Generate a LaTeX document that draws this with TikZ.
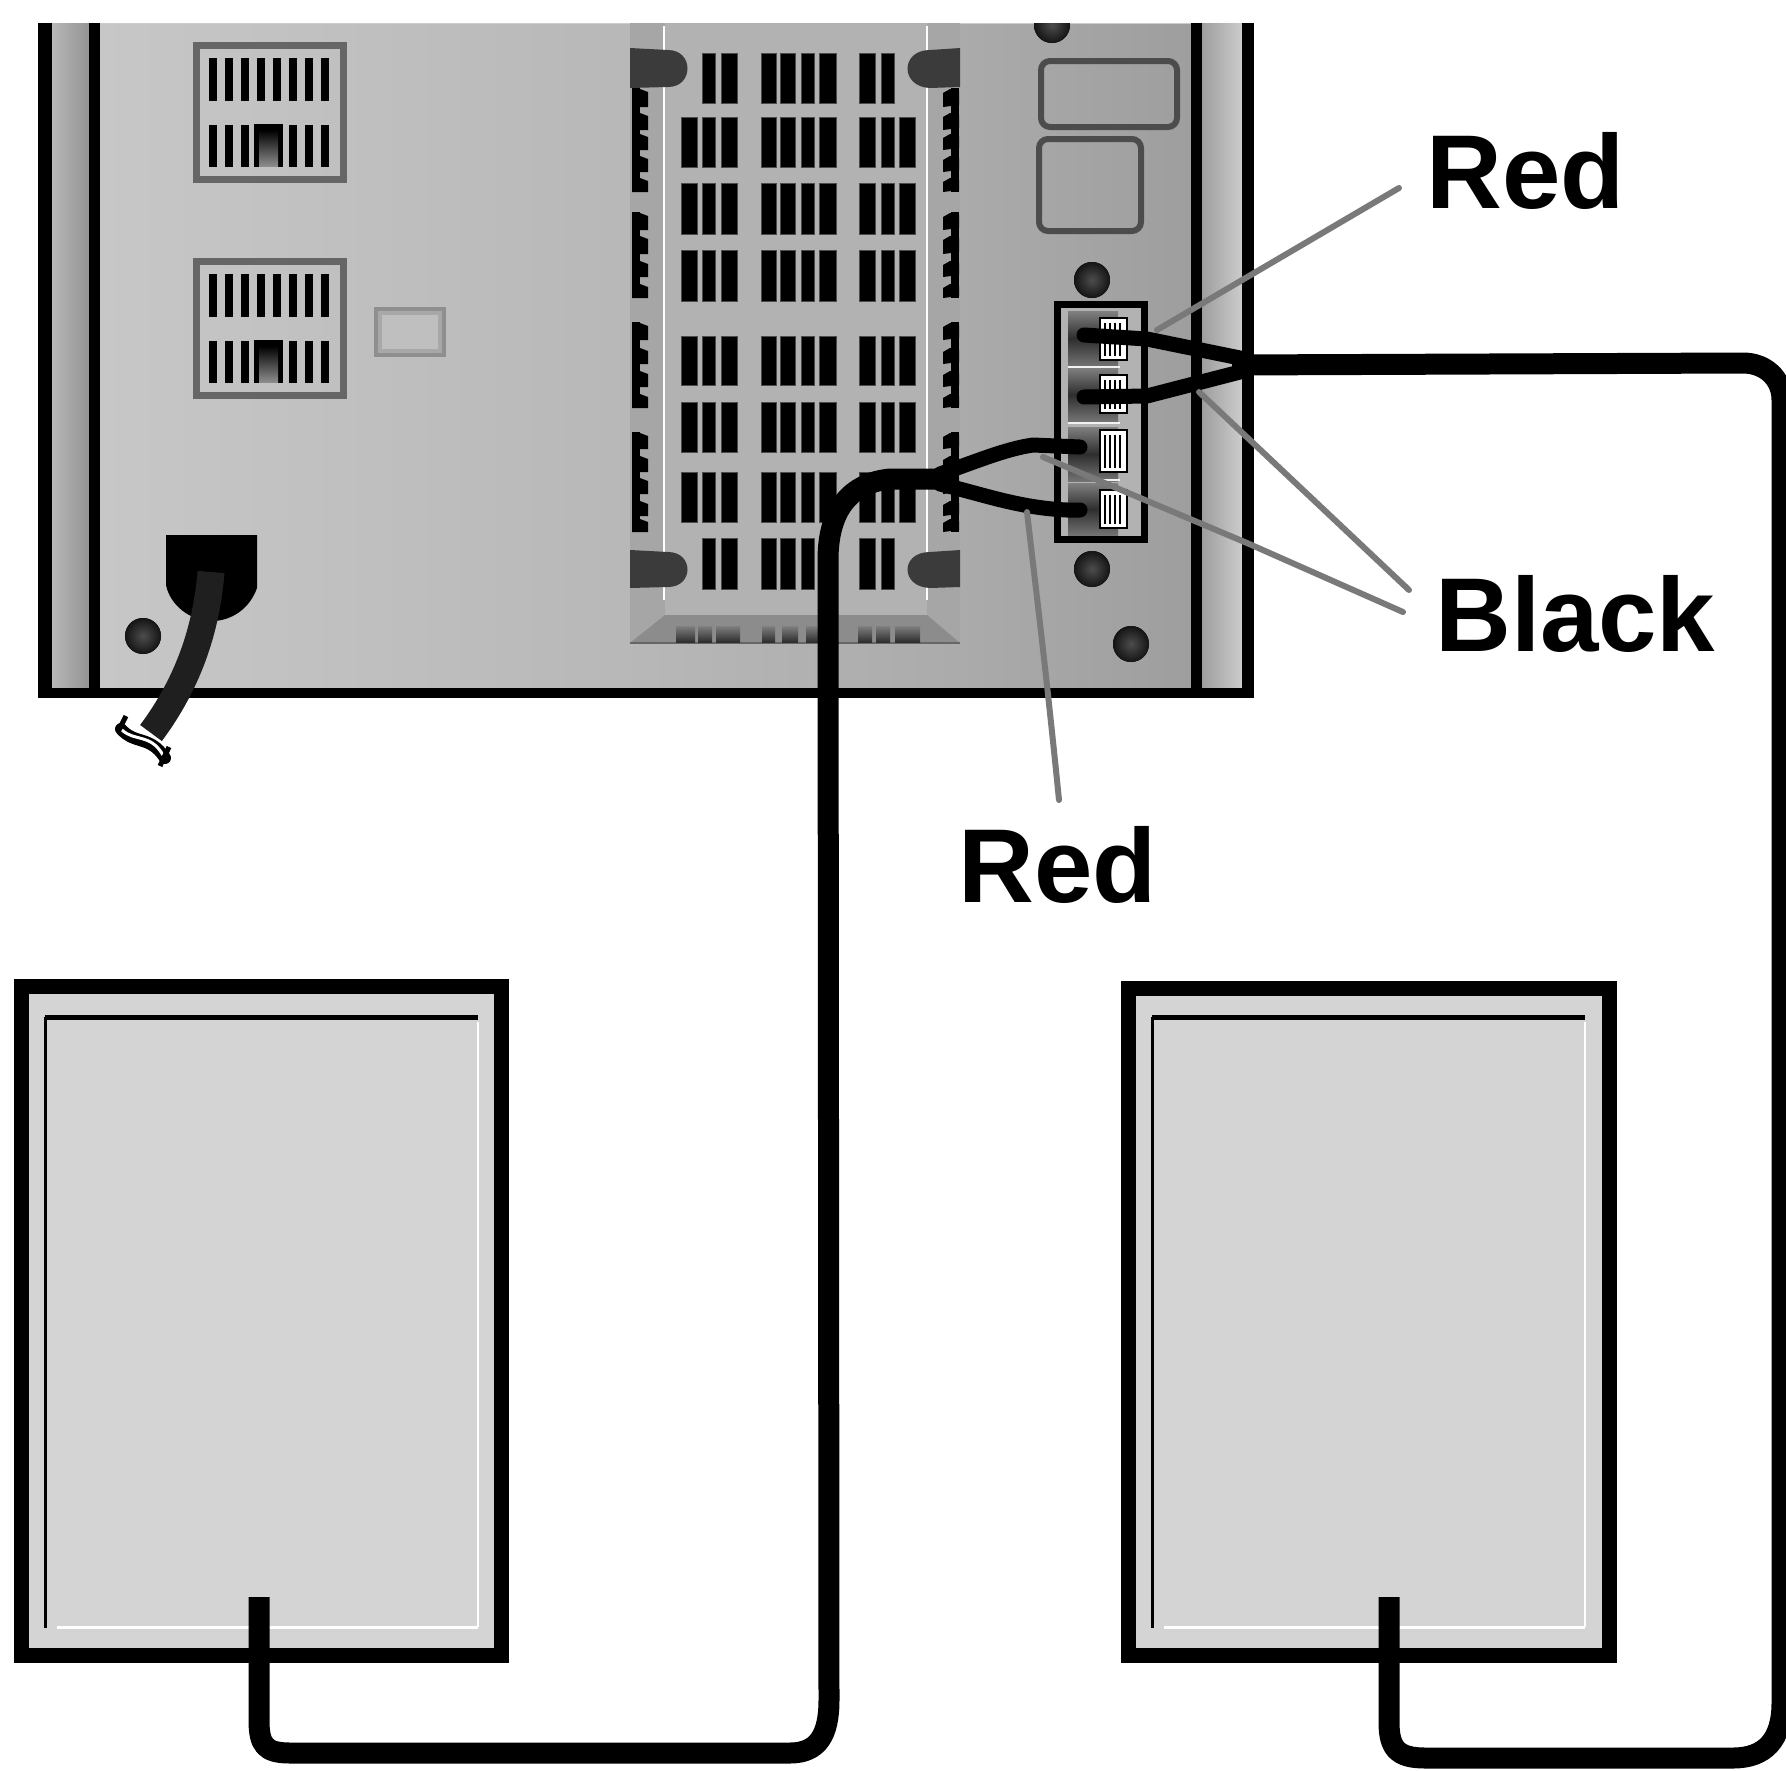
\documentclass[tikz,border=0pt]{standalone}
\usepackage{fontspec}
\setmainfont{Liberation Sans}
\tikzset{
  wire/.style={line width=21pt,black,line cap=butt,line join=round},
  thinwire/.style={line width=15pt,black,line cap=round,line join=round},
  leader/.style={line width=6pt,color=gray!95!black,line cap=round},
  slot/.style={fill=black,draw=black!70,line width=0.6pt},
  screw/.style={inner color=black!70,outer color=black!92},
  ventframe/.style={draw=black!60,line width=7pt},
  roundbox/.style={draw=black!70,line width=6pt,rounded corners=9pt},
  speakerbox/.style={draw=black,line width=15pt,fill=black!17},
  lab/.style={inner sep=0pt,anchor=base west,font=\fontsize{105}{105}\bfseries\selectfont},
  screwhead/.style={fill=black!77},
  bodystroke/.style={black,line cap=butt}
}
\begin{document}
\begin{tikzpicture}[x=1pt,y=-1pt]
\useasboundingbox (0,0) rectangle (1786,1770);
\fill[white] (0,0) rectangle (1786,1770);

%% ---------- main unit body ----------
\shade[left color=black!22,right color=black!28] (100,23) rectangle (630,690);
\shade[left color=black!33,right color=black!38] (960,23) rectangle (1191,690);
\shade[left color=black!28,right color=black!33] (630,590) rectangle (960,690);
\shade[left color=black!28,right color=black!42] (52,23) rectangle (89,690);
\shade[left color=black!38,right color=black!20] (1202,23) rectangle (1242,690);
\draw[bodystroke,line width=14pt] (45,23) -- (45,693);
\draw[bodystroke,line width=11pt] (94.5,23) -- (94.5,693);
\draw[bodystroke,line width=11pt] (1196.5,23) -- (1196.5,693);
\draw[bodystroke,line width=12pt] (1248,23) -- (1248,693);
\draw[bodystroke,line width=10pt] (38,692.5) -- (1254,692.5);
\draw[black!20,line width=1pt] (100,23) -- (1191,23);

%% ---------- grille ----------
\fill[black!35] (630,23) rectangle (960,643);
\fill[black!30] (665,23) rectangle (927,615);
\fill[black!45] (630,643) -- (665,615) -- (927,615) -- (960,643) -- cycle;
\draw[black!60,line width=2pt] (630,643) -- (960,643);
\draw[white,line width=2.5pt] (664,26) -- (664,600);
\draw[white,line width=2pt] (927,26) -- (927,600);
\foreach \xa/\xb in {761/776.7,780/795.7,801/814.3,819.7/836,859.7/875.7,881/894.3,702.3/715.7,721/737.3}{
  \foreach \ya/\yb in {53/103,117/167,183/234,250/301,336/385,402/452,472/522,538/589}{
    \fill[slot] (\xa,\ya) rectangle (\xb,\yb);
  }
}
\foreach \xa/\xb in {681/697,899.7/915.7}{
  \foreach \ya/\yb in {117/167,183/234,250/301,336/385,402/452,472/522}{
    \fill[slot] (\xa,\ya) rectangle (\xb,\yb);
  }
}
% serrated edges: a spine per group, and the teeth on it
\foreach \ya/\yb in {88/192,212/298,322/408,432/532}{
  \fill[black] (632,\ya) rectangle (640,\yb);
  \fill[black] (951,\ya) rectangle (959,\yb);
}
\foreach \ya/\yb in {88/107,112/130,133/150,155/172,177/192,212/230,235/254,260/277,283/298,322/340,347/364,370/387,393/408,432/449,455/472,477/494,500/516,518/532}{
  \fill[black] (632,\ya) -- (640,\ya+1) -- (648,\ya+4) -- (648,\yb) -- (632,\yb) -- cycle;
  \fill[black] (959,\ya+3) -- (950,\ya+1) -- (943,\ya+5) -- (943,\yb) -- (959,\yb-2) -- cycle;
}
% screws of the grille
\foreach \ya/\yb in {48/88,550/588}{
  \fill[screwhead] (630,\ya) -- (668,\ya+2) .. controls (694,\ya+2) and (694,\yb-1) .. (668,\yb-1) -- (630,\yb) -- cycle;
  \fill[screwhead] (960,\ya) -- (930,\ya+2) .. controls (900,\ya+2) and (900,\yb-1) .. (930,\yb) -- (960,\yb-1) -- cycle;
}
% blurred print on the bevel
\foreach \xa/\xb in {676/695,698/712,716/740,762/775,782/798,806/822,858/872,876/890,895/920}{
  \shade[top color=black!50,bottom color=black!82] (\xa,626) rectangle (\xb,642);
}

%% ---------- left vents ----------
\foreach \yt/\ya/\yb/\yc/\yd/\ye in {42/58/101/125/167/183,258/274/317/341/383/399}{
  \draw[ventframe] (196.5,\yt+3.5) rectangle (343.5,\ye-3.5);
  \foreach \i in {0,...,7}{
    \fill[black] (209+16*\i,\ya) rectangle (217+16*\i,\yb);
  }
  \foreach \i in {0,1,2,5,6,7}{
    \fill[black] (209+16*\i,\yc) rectangle (217+16*\i,\yd);
  }
  \fill[black] (254,\yc-1) rectangle (283,\yd);
  \shade[top color=black,bottom color=black!45] (259,\yc+5) rectangle (278,\yd-1);
}
\fill[black!44] (374,307) rectangle (446,357);
\fill[black!34] (378,311) rectangle (442,353);
\fill[black!25] (382,315) rectangle (438,349);

%% ---------- power plug ----------
\fill[black] (166,535) -- (257,535) -- (257,588) .. controls (250,608) and (232,621) .. (212,621)
  .. controls (190,621) and (170,605) .. (166,585) -- cycle;
\draw[line width=27pt,black!88,line cap=butt] (211,572) .. controls (207,622) and (192,678) .. (151,733);
\draw[black,line width=12pt,line cap=round] (121,729) .. controls (135,745) and (150,735) .. (165,758);
\draw[white,line width=3pt,line cap=round] (122,730) .. controls (135,742) and (150,733) .. (163,755);
\draw[black,line width=5pt] (126,716) -- (119,730);
\draw[black,line width=5pt] (169,747) -- (160,766);
\fill[screw] (143,636) circle (18);

%% ---------- right side details ----------
\draw[roundbox] (1041,61) rectangle (1177,127);
\draw[roundbox] (1039,139) rectangle (1141,231);
\begin{scope}
\clip (1000,23) rectangle (1100,60);
\fill[screw] (1052,25) circle (18);
\end{scope}
\fill[screw] (1092,280) circle (18);
\fill[screw] (1092,569) circle (18);
\fill[screw] (1131,644) circle (18);

%% ---------- terminal block ----------
\fill[black!30] (1054,301) rectangle (1148,543);
\foreach \ya/\yb in {311/366,368/421,427/481,483/535}{
  \shade[top color=black!50,bottom color=black!55,middle color=black!82] (1068,\ya) rectangle (1118,\yb);
}
\draw[black!5,line width=2pt] (1068,367) -- (1120,367);
\draw[black!5,line width=2pt] (1068,423) -- (1120,423);
\draw[black!5,line width=2pt] (1095,480) -- (1120,480);
\foreach \ya/\yb in {318/360,375/413,430/472,490/528}{
  \fill[white] (1100,\ya) rectangle (1127,\yb);
  \draw[black,line width=1.5pt] (1100,\ya) rectangle (1127,\yb);
  \foreach \x in {1105,1110,1115,1120}{
    \draw[black,line width=2pt] (\x,\ya+5) -- (\x,\yb-4);
  }
}
\draw[black,line width=7pt] (1057.5,304.5) rectangle (1144.5,539.5);

%% ---------- speakers ----------
\foreach \xl/\xr/\yt/\il/\ir in {21.5/501.5/986.5/45/478,1128.5/1609.5/988.5/1152/1585}{
  \draw[speakerbox] (\xl,\yt) rectangle (\xr,1655.5);
  \draw[black,line width=5pt] (\il,1017) -- (\ir,1017);
  \draw[black,line width=3pt] (\il,1017) -- (\il,1628);
  \draw[white,line width=3pt] (\il+12,1627) -- (\ir,1627);
  \draw[white,line width=2pt] (\ir,1022) -- (\ir,1627);
}

%% ---------- named junctions and free ends ----------
\coordinate (leftjoint) at (942,479);
\coordinate (rightjoint) at (1232,365);
\coordinate (termA) at (1084,335);
\coordinate (termB) at (1084,397);
\coordinate (termC) at (1080,447);
\coordinate (termD) at (1080,510);
\coordinate (spkL) at (259,1597);
\coordinate (spkR) at (1389,1597);

%% ---------- wires ----------
\draw[wire] (spkL) -- (259,1720) .. controls (259,1745) and (265,1753) .. (290,1753)
  -- (790,1753) .. controls (818,1753) and (829,1735) .. (829,1700)
  -- (828,560) .. controls (828,510) and (850,483) .. (890,479) -- (leftjoint);
\draw[wire] (spkR) -- (1389,1722) .. controls (1389,1748) and (1397,1758) .. (1425,1758)
  -- (1733,1758) .. controls (1765,1758) and (1782,1740) .. (1782,1703)
  -- (1782,400) .. controls (1782,378) and (1765,363) .. (1743,363) -- (rightjoint);
\draw[thinwire] (termA) -- (1147,339) -- (1240,358);
\draw[thinwire] (termB) -- (1147,396) -- (1240,372);
\draw[thinwire] (termC) -- (1033,445) .. controls (1005,449) and (975,462) .. (940,474);
\draw[thinwire] (termD) -- (1067,510) .. controls (1020,508) and (985,495) .. (940,484);

%% ---------- labels and leaders ----------
\node[lab] (redtop) at (1426,208) {Red};
\node[lab] (black) at (1435,651) {Black};
\node[lab] (redlow) at (958,902) {Red};
\coordinate (redtopend) at (1399,188);
\coordinate (blackendA) at (1409,590);
\coordinate (blackendB) at (1403,612);
\coordinate (redlowend) at (1059,800);
\coordinate (redtopstart) at (1157,330);
\coordinate (blackstartA) at (1199,392);
\coordinate (blackstartB) at (1043,457);
\coordinate (redlowstart) at (1027,512);
\draw[leader] (redtopstart) -- (redtopend);
\draw[leader] (blackstartA) -- (blackendA);
\draw[leader] (blackstartB) -- (1247,543) -- (blackendB);
\draw[leader] (redlowstart) .. controls (1036,590) and (1046,670) .. (redlowend);
\end{tikzpicture}
\end{document}
